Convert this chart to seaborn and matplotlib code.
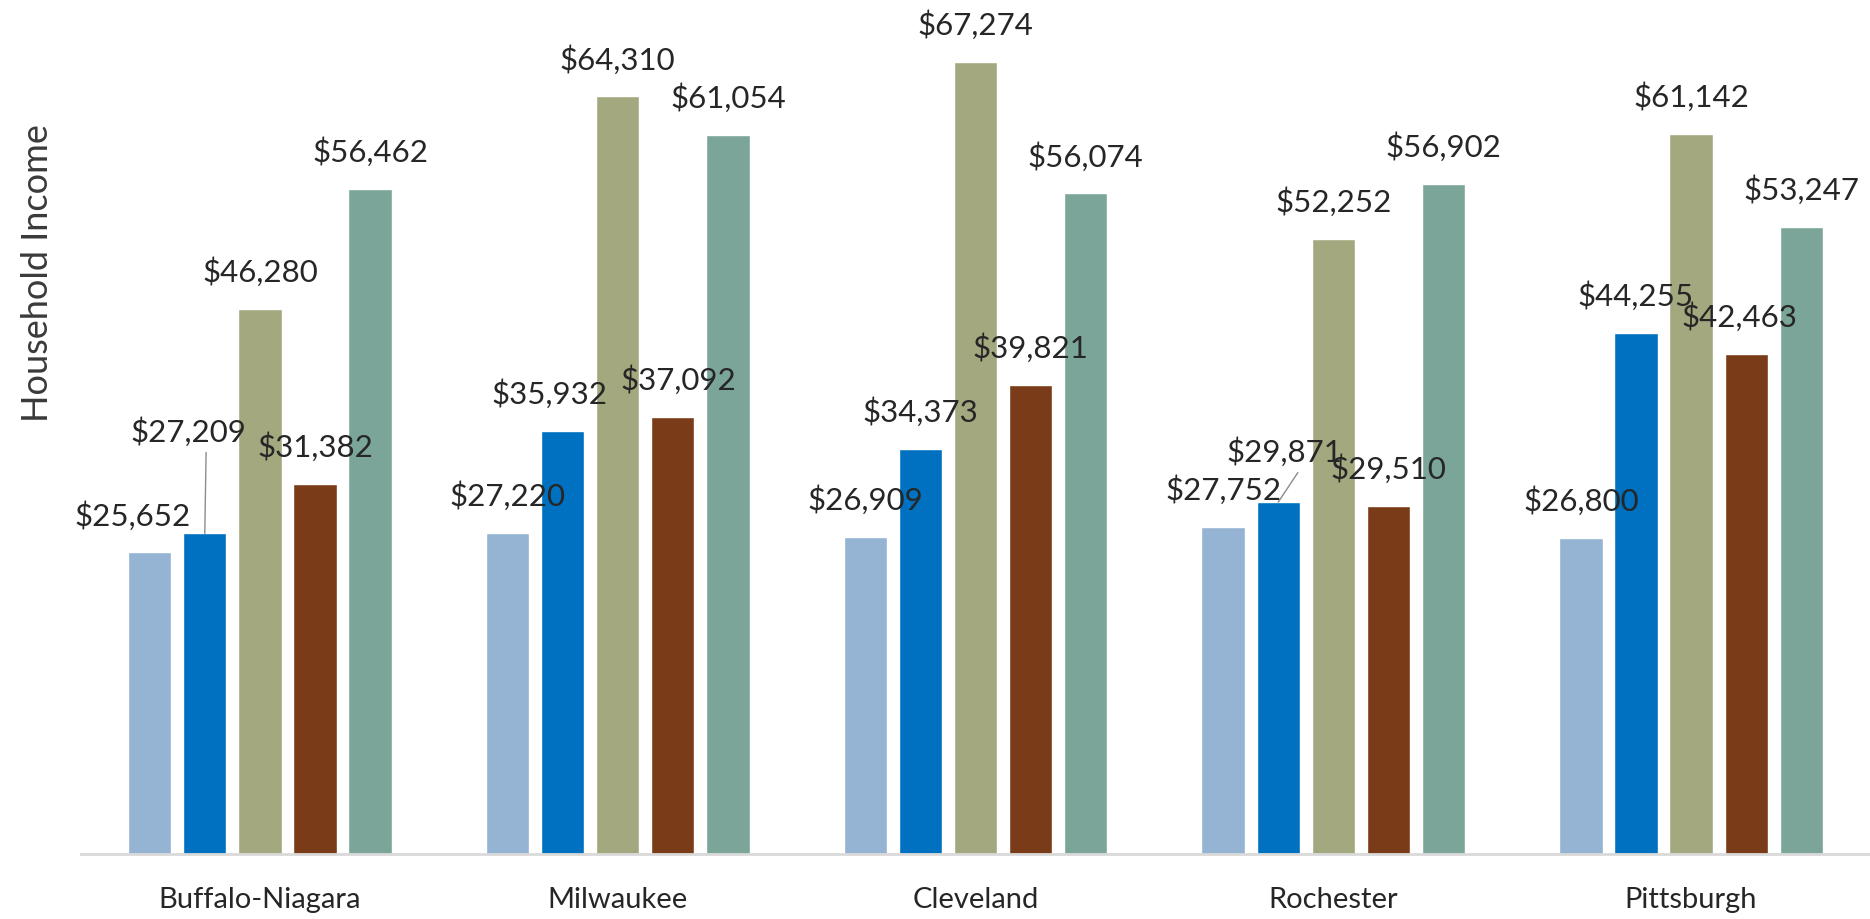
import numpy as np
import pandas as pd
import matplotlib
matplotlib.use("Agg")
import matplotlib.pyplot as plt
import seaborn as sns

# ---- Data ----
metros = ["Buffalo-Niagara", "Milwaukee", "Cleveland", "Rochester", "Pittsburgh"]
series = ["s1", "s2", "s3", "s4", "s5"]
s1 = [25652, 27220, 26909, 27752, 26800]
s2 = [27209, 35932, 34373, 29871, 44255]
s3 = [46280, 64310, 67274, 52252, 61142]
s4 = [31382, 37092, 39821, 29510, 42463]
s5 = [56462, 61054, 56074, 56902, 53247]

colors = ["#95B3D3", "#0070C0", "#A3A87E", "#7A3B18", "#7BA599"]

# label nudges (pixels) for the crowded labels, keyed by (metro index, series index)
nudges = {
    (0, 0): (-17, 36),
    (0, 1): (-16, 102),
    (1, 1): (-13, 37),
    (1, 3): (6, 37),
    (3, 1): (6, 50),
    (4, 3): (-7, 37),
}
leaders = {(0, 1), (3, 1)}

df = pd.DataFrame({
    "metro": np.repeat(metros, len(series)),
    "series": series * len(metros),
    "income": np.array([s1, s2, s3, s4, s5]).T.ravel(),
})

sns.set_theme(style="white")
plt.rcParams["font.family"] = ["Lato", "DejaVu Sans"]

fig = plt.figure(figsize=(18.7, 9.19), dpi=100)
ax = fig.add_axes([81 / 1870, 65 / 919, 1 - 81 / 1870, 854 / 919])

sns.barplot(data=df, x="metro", y="income", hue="series", order=metros,
            hue_order=series, palette=colors, width=0.77, gap=0.215,
            saturation=1, legend=False, ax=ax)

ax.set_ylim(0, 72500)
ax.set_xlim(-0.5, 4.5)
ax.set_yticks([])
ax.set_xlabel("")
ax.set_ylabel("Household Income", fontsize=26, color="#3a3a3a")
ax.yaxis.set_label_coords(-0.015, 0.68)
ax.tick_params(axis="x", length=0, pad=24, labelsize=21, labelcolor="#262626")
for s in ["top", "right", "left"]:
    ax.spines[s].set_visible(False)
ax.spines["bottom"].set_color("#d9d9d9")
ax.spines["bottom"].set_linewidth(2)

# data labels from the drawn bars
for j, container in enumerate(ax.containers):
    for i, bar in enumerate(container):
        x = bar.get_x() + bar.get_width() / 2
        y = bar.get_height()
        dx, dy = nudges.get((i, j), (0, 37))
        props = None
        if (i, j) in leaders:
            props = dict(arrowstyle="-", color="#8c8c8c", lw=1.0,
                         relpos=(0.65, 0.0), shrinkA=2, shrinkB=0)
        ax.annotate(f"${y:,.0f}", xy=(x, y), xytext=(dx, dy),
                    textcoords="offset pixels", ha="center", va="center",
                    fontsize=22.5, color="#262626", arrowprops=props)

fig.savefig("out.png", dpi=100)
